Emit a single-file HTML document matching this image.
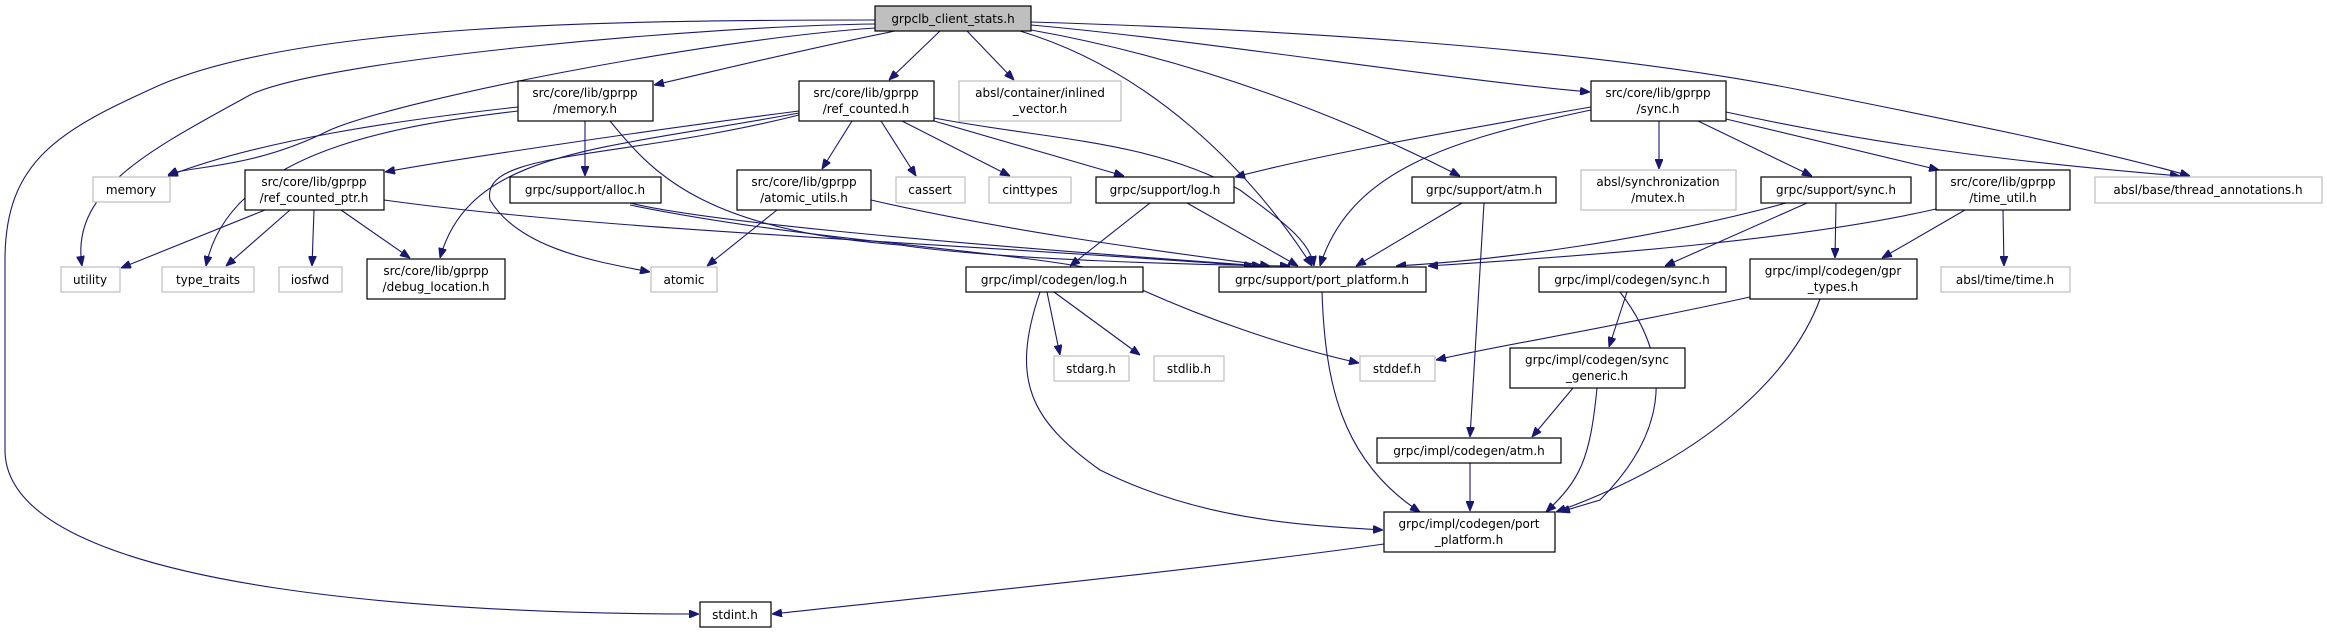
<!DOCTYPE html>
<html><head><meta charset="utf-8"><style>
html,body{margin:0;padding:0;background:#fff;width:2327px;height:633px;overflow:hidden}
svg{display:block}
text{font-family:"DejaVu Sans","Liberation Sans",sans-serif;font-size:12px;fill:#000}
.e{fill:none;stroke:#191970;stroke-width:1.1}
.b{fill:#fff;stroke:#000;stroke-width:1.2}
.g{fill:#fff;stroke:#bfbfbf;stroke-width:1.2}
</style></head><body>
<svg width="2327" height="633" viewBox="0 0 2327 633" xmlns="http://www.w3.org/2000/svg">
<defs><marker id="a" viewBox="0 0 10 8" refX="10" refY="4" markerWidth="10" markerHeight="8" markerUnits="userSpaceOnUse" orient="auto"><path d="M0,0 L10,4 L0,8 z" fill="#191970" stroke="#191970"/></marker></defs>
<g class="e" marker-end="url(#a)">
<!-- root edges -->
<path d="M875,20 C600,20 300,25 160,85 C60,130 5,160 5,260 L5,450 C5,600 500,614 699,614"/>
<path d="M875,24 C700,26 320,60 250,95 C150,150 70,190 82,266"/>
<path d="M875,28 C700,40 400,100 330,130 C250,170 190,165 168,175"/>
<path d="M895,31 C800,50 720,70 654,85"/>
<path d="M940,31 L889,80"/>
<path d="M967,31 L1014,80"/>
<path d="M1020,31 C1150,70 1250,170 1312,266"/>
<path d="M1031,30 C1200,60 1350,120 1460,176"/>
<path d="M1031,25 C1200,40 1450,80 1590,92"/>
<path d="M1031,22 C1300,30 1600,50 1800,90 C1950,120 2100,150 2190,176"/>
<!-- memory.h -->
<path d="M518,107 C400,120 260,140 168,176"/>
<path d="M518,111 C400,125 230,150 206,266"/>
<path d="M585,121 L585,176"/>
<path d="M610,121 C650,170 700,230 900,245 C1000,260 1200,265 1290,266"/>
<!-- ref_counted.h -->
<path d="M799,111 C650,130 450,160 385,172"/>
<path d="M799,113 C600,150 470,150 440,258"/>
<path d="M799,115 C620,160 480,150 490,200 C520,250 600,262 650,272"/>
<path d="M852,121 L822,169"/>
<path d="M881,121 L916,176"/>
<path d="M902,121 L1010,176"/>
<path d="M934,121 L1124,176"/>
<path d="M934,118 C1050,140 1150,140 1240,190 C1280,220 1310,240 1314,266"/>
<!-- ref_counted_ptr -->
<path d="M265,210 L121,268"/>
<path d="M290,210 L226,266"/>
<path d="M314,210 L312,266"/>
<path d="M341,210 L410,258"/>
<path d="M384,200 C600,230 900,240 1254,266"/>
<!-- alloc -->
<path d="M630,203 C700,220 900,240 1262,266"/>
<path d="M630,205 C800,240 1000,250 1100,270 C1200,320 1300,350 1359,363"/>
<!-- atomic_utils -->
<path d="M777,210 L707,266"/>
<path d="M871,200 C1000,230 1150,250 1270,266"/>
<!-- support/log -->
<path d="M1150,203 L1070,266"/>
<path d="M1187,203 L1298,266"/>
<!-- support/atm -->
<path d="M1462,203 L1356,266"/>
<path d="M1484,203 L1470,437"/>
<!-- sync.h -->
<path d="M1591,107 C1400,140 1300,160 1235,177"/>
<path d="M1591,110 C1450,140 1350,170 1320,266"/>
<path d="M1659,121 L1659,169"/>
<path d="M1698,121 L1812,176"/>
<path d="M1726,119 L1939,170"/>
<path d="M1726,112 C1900,150 2050,165 2180,176"/>
<!-- support/sync -->
<path d="M1786,203 C1650,240 1500,260 1396,266"/>
<path d="M1807,203 L1665,266"/>
<path d="M1836,203 L1835,258"/>
<!-- time_util -->
<path d="M1936,209 C1800,240 1600,255 1428,266"/>
<path d="M1965,210 L1882,258"/>
<path d="M2003,210 L2004,266"/>
<!-- codegen/log -->
<path d="M1047,292 L1060,355"/>
<path d="M1054,292 L1140,355"/>
<path d="M1040,292 C1010,380 1030,420 1100,470 C1200,520 1300,525 1383,530"/>
<!-- codegen/sync -->
<path d="M1627,292 L1609,347"/>
<path d="M1620,292 C1680,370 1660,440 1600,500 L1560,512"/>
<!-- sync_generic -->
<path d="M1573,388 L1532,437"/>
<path d="M1597,388 C1590,460 1580,480 1546,512"/>
<!-- gpr_types -->
<path d="M1750,297 C1600,330 1500,345 1436,360"/>
<path d="M1820,299 C1790,380 1700,460 1556,512"/>
<!-- atm -->
<path d="M1470,463 L1470,511"/>
<!-- port_platform -->
<path d="M1322,292 C1325,380 1340,460 1420,512"/>
<path d="M1384,544 C1200,570 900,600 772,614"/>
</g>
<g>
<rect x="875" y="6" width="156" height="25" fill="#bfbfbf" stroke="#000" stroke-width="1.2"/>
<text x="953" y="23" text-anchor="middle">grpclb_client_stats.h</text>
<rect class="b" x="518" y="81" width="135" height="40"/><text x="585" y="97" text-anchor="middle">src/core/lib/gprpp</text><text x="585" y="113" text-anchor="middle">/memory.h</text>
<rect class="b" x="799" y="81" width="135" height="40"/><text x="866" y="97" text-anchor="middle">src/core/lib/gprpp</text><text x="866" y="113" text-anchor="middle">/ref_counted.h</text>
<rect class="g" x="959" y="81" width="162" height="40"/><text x="1040" y="97" text-anchor="middle">absl/container/inlined</text><text x="1040" y="113" text-anchor="middle">_vector.h</text>
<rect class="b" x="1591" y="81" width="135" height="40"/><text x="1658" y="97" text-anchor="middle">src/core/lib/gprpp</text><text x="1658" y="113" text-anchor="middle">/sync.h</text>
<rect class="g" x="93" y="177" width="77" height="25"/><text x="131" y="194" text-anchor="middle">memory</text>
<rect class="b" x="245" y="170" width="139" height="40"/><text x="314" y="186" text-anchor="middle">src/core/lib/gprpp</text><text x="314" y="202" text-anchor="middle">/ref_counted_ptr.h</text>
<rect class="b" x="510" y="177" width="151" height="26"/><text x="585" y="194" text-anchor="middle">grpc/support/alloc.h</text>
<rect class="b" x="737" y="170" width="134" height="40"/><text x="804" y="186" text-anchor="middle">src/core/lib/gprpp</text><text x="804" y="202" text-anchor="middle">/atomic_utils.h</text>
<rect class="g" x="896" y="177" width="69" height="26"/><text x="930" y="194" text-anchor="middle">cassert</text>
<rect class="g" x="989" y="177" width="82" height="26"/><text x="1030" y="194" text-anchor="middle">cinttypes</text>
<rect class="b" x="1096" y="177" width="138" height="26"/><text x="1165" y="194" text-anchor="middle">grpc/support/log.h</text>
<rect class="b" x="1412" y="177" width="144" height="26"/><text x="1484" y="194" text-anchor="middle">grpc/support/atm.h</text>
<rect class="g" x="1581" y="170" width="155" height="40"/><text x="1658" y="186" text-anchor="middle">absl/synchronization</text><text x="1658" y="202" text-anchor="middle">/mutex.h</text>
<rect class="b" x="1761" y="177" width="150" height="26"/><text x="1836" y="194" text-anchor="middle">grpc/support/sync.h</text>
<rect class="b" x="1936" y="170" width="134" height="40"/><text x="2003" y="186" text-anchor="middle">src/core/lib/gprpp</text><text x="2003" y="202" text-anchor="middle">/time_util.h</text>
<rect class="g" x="2095" y="177" width="227" height="26"/><text x="2208" y="194" text-anchor="middle">absl/base/thread_annotations.h</text>
<rect class="g" x="61" y="267" width="59" height="25"/><text x="90" y="284" text-anchor="middle">utility</text>
<rect class="g" x="162" y="267" width="92" height="25"/><text x="208" y="284" text-anchor="middle">type_traits</text>
<rect class="g" x="279" y="267" width="63" height="25"/><text x="310" y="284" text-anchor="middle">iosfwd</text>
<rect class="b" x="367" y="259" width="138" height="40"/><text x="436" y="275" text-anchor="middle">src/core/lib/gprpp</text><text x="436" y="291" text-anchor="middle">/debug_location.h</text>
<rect class="g" x="651" y="267" width="66" height="25"/><text x="684" y="284" text-anchor="middle">atomic</text>
<rect class="b" x="966" y="267" width="177" height="25"/><text x="1054" y="284" text-anchor="middle">grpc/impl/codegen/log.h</text>
<rect class="b" x="1219" y="267" width="207" height="25"/><text x="1322" y="284" text-anchor="middle">grpc/support/port_platform.h</text>
<rect class="b" x="1539" y="267" width="187" height="25"/><text x="1632" y="284" text-anchor="middle">grpc/impl/codegen/sync.h</text>
<rect class="b" x="1750" y="259" width="167" height="40"/><text x="1833" y="275" text-anchor="middle">grpc/impl/codegen/gpr</text><text x="1833" y="291" text-anchor="middle">_types.h</text>
<rect class="g" x="1941" y="267" width="129" height="25"/><text x="2005" y="284" text-anchor="middle">absl/time/time.h</text>
<rect class="g" x="1054" y="356" width="75" height="25"/><text x="1091" y="373" text-anchor="middle">stdarg.h</text>
<rect class="g" x="1154" y="356" width="70" height="25"/><text x="1189" y="373" text-anchor="middle">stdlib.h</text>
<rect class="g" x="1360" y="356" width="75" height="25"/><text x="1397" y="373" text-anchor="middle">stddef.h</text>
<rect class="b" x="1510" y="348" width="175" height="40"/><text x="1597" y="364" text-anchor="middle">grpc/impl/codegen/sync</text><text x="1597" y="380" text-anchor="middle">_generic.h</text>
<rect class="b" x="1377" y="438" width="184" height="25"/><text x="1469" y="455" text-anchor="middle">grpc/impl/codegen/atm.h</text>
<rect class="b" x="1384" y="512" width="171" height="40"/><text x="1469" y="528" text-anchor="middle">grpc/impl/codegen/port</text><text x="1469" y="544" text-anchor="middle">_platform.h</text>
<rect class="b" x="700" y="602" width="71" height="25"/><text x="735" y="619" text-anchor="middle">stdint.h</text>
</g>
</svg>
</body></html>
